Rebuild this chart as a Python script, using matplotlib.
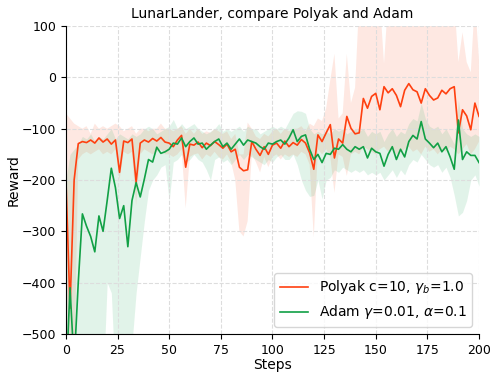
import numpy as np
import matplotlib
matplotlib.use("Agg")
import matplotlib.pyplot as plt

# ============================================
# DATA (step = 2)
# ============================================

steps = list(range(0, 201, 2))

polyak_mean = [
    -194, -450, -200, -129, -125, -127, -122, -128, -118, -126,
    -120, -130, -122, -185, -124, -127, -120, -204, -128, -122,
    -126, -119, -124, -117, -126, -128, -135, -122, -113, -175,
    -130, -132, -126, -137, -128, -133, -125, -131, -138, -130,
    -145, -140, -175, -182, -180, -125, -140, -152, -135, -150,
    -132, -128, -138, -124, -135, -127, -132, -121, -128, -147,
    -179, -112, -125, -108, -92, -157, -120, -128, -76, -99,
    -110, -108, -41, -60, -37, -31, -63, -18, -30, -22,
    -35, -57, -25, -12, -24, -28, -50, -22, -35, -44,
    -40, -25, -32, -22, -18, -108, -63, -75, -102, -50,
    -76,
]
polyak_low = [
    -380, -600, -600, -160, -150, -145, -150, -145, -140, -150,
    -145, -150, -140, -200, -145, -150, -145, -250, -150, -140,
    -145, -150, -145, -140, -150, -150, -155, -150, -140, -255,
    -155, -150, -148, -160, -150, -155, -145, -155, -160, -150,
    -165, -200, -300, -310, -280, -150, -165, -185, -155, -175,
    -155, -150, -160, -150, -155, -150, -155, -145, -150, -170,
    -312, -140, -150, -140, -155, -225, -150, -155, -192, -150,
    -145, -150, -135, -140, -145, -150, -140, -135, -145, -140,
    -150, -145, -140, -135, -145, -140, -150, -135, -145, -140,
    -150, -140, -145, -135, -140, -150, -140, -130, -150, -140,
    -125,
]
polyak_high = [
    -70, -80, -90, -95, -100, -95, -110, -90, -100, -95,
    -100, -95, -90, -95, -105, -100, -95, -110, -100, -100,
    -105, -100, -100, -90, -100, -100, -105, -100, -95, -110,
    -100, -110, -100, -110, -105, -108, -100, -105, -110, -105,
    -120, -110, -150, -150, -88, -100, -115, -120, -110, -115,
    -105, -100, -110, -100, -105, -100, -100, -95, -105, -90,
    -95, -80, -85, -60, -5, 46, -80, -70, 46, -50,
    -20, 150, 150, 150, 150, 150, 150, 27, 150, 150,
    150, 150, 150, 150, 150, 150, 150, 150, 150, 150,
    150, 150, 150, 150, 150, 30, 88, 30, 10, 150,
    34,
]

adam_mean = [
    -600, -410, -560, -400, -266, -290, -310, -340, -270, -300,
    -240, -177, -215, -275, -250, -330, -240, -205, -233, -198,
    -160, -165, -136, -148, -145, -140, -128, -130, -118, -135,
    -125, -118, -130, -128, -140, -132, -125, -120, -135, -128,
    -140, -130, -120, -132, -122, -125, -128, -135, -140, -128,
    -130, -125, -122, -130, -118, -102, -125, -115, -112, -140,
    -160, -150, -166, -148, -150, -138, -140, -131, -140, -145,
    -135, -140, -135, -157, -138, -145, -148, -173, -150, -135,
    -160, -140, -155, -125, -113, -120, -86, -120, -128, -137,
    -128, -145, -135, -155, -179, -83, -160, -145, -152, -152,
    -166,
]
adam_low = [
    -600, -600, -600, -600, -600, -600, -600, -600, -600, -600,
    -400, -420, -600, -600, -600, -600, -520, -420, -350, -280,
    -220, -200, -190, -175, -170, -240, -165, -160, -150, -165,
    -160, -150, -160, -165, -180, -200, -160, -155, -165, -160,
    -170, -160, -150, -160, -150, -155, -160, -165, -170, -160,
    -165, -155, -150, -160, -160, -150, -170, -200, -220, -232,
    -230, -200, -237, -200, -195, -180, -185, -175, -180, -185,
    -180, -185, -180, -190, -185, -190, -185, -200, -190, -180,
    -195, -180, -190, -170, -160, -165, -150, -160, -170, -175,
    -170, -185, -175, -195, -230, -270, -263, -240, -200, -190,
    -212,
]
adam_high = [
    -200, -150, -140, -130, -115, -120, -110, -125, -115, -120,
    -110, -100, -120, -110, -115, -120, -110, -115, -110, -100,
    -95, -100, -110, -105, -100, -95, -82, -100, -90, -100,
    -95, -90, -100, -105, -110, -105, -100, -90, -105, -100,
    -105, -100, -95, -105, -95, -100, -100, -110, -105, -100,
    -95, -100, -95, -100, -85, -70, -65, -66, -70, -100,
    -110, -105, -110, -105, -110, -100, -105, -100, -110, -105,
    -100, -105, -100, -115, -105, -110, -105, -125, -110, -100,
    -115, -105, -110, -90, -80, -85, -50, -80, -95, -100,
    -95, -110, -100, -115, -130, -44, -100, -110, -115, -110,
    -115,
]

RED = "#ff4010"
GREEN = "#11a045"

# ============================================
# PLOT
# ============================================

fig, ax = plt.subplots(figsize=(4.99, 3.79), dpi=100)
fig.subplots_adjust(left=0.132, right=0.960, top=0.931, bottom=0.119)

ax.fill_between(steps, polyak_low, polyak_high, color="#fa8060", alpha=0.18, linewidth=0)
ax.fill_between(steps, adam_low, adam_high, color="#3cb46e", alpha=0.15, linewidth=0)

ax.plot(steps, polyak_mean, color=RED, linewidth=1.2, label=r"Polyak c=10, $\gamma_b$=1.0")
ax.plot(steps, adam_mean, color=GREEN, linewidth=1.2, label=r"Adam $\gamma$=0.01, $\alpha$=0.1")

ax.set_xlim(0, 200)
ax.set_ylim(-500, 100)
ax.set_xticks([0, 25, 50, 75, 100, 125, 150, 175, 200])
ax.set_yticks([-500, -400, -300, -200, -100, 0, 100])

ax.grid(True, linestyle="--", color="#dddddd", linewidth=0.8)
ax.spines["top"].set_visible(False)
ax.spines["right"].set_visible(False)

ax.set_title("LunarLander, compare Polyak and Adam", fontsize=10)
ax.set_xlabel("Steps", fontsize=10, labelpad=1)
ax.set_ylabel("Reward", fontsize=10, labelpad=1)
ax.tick_params(labelsize=9)

ax.legend(loc="lower right", fontsize=10, handlelength=2.0)

plt.savefig("out.png", dpi=100)
